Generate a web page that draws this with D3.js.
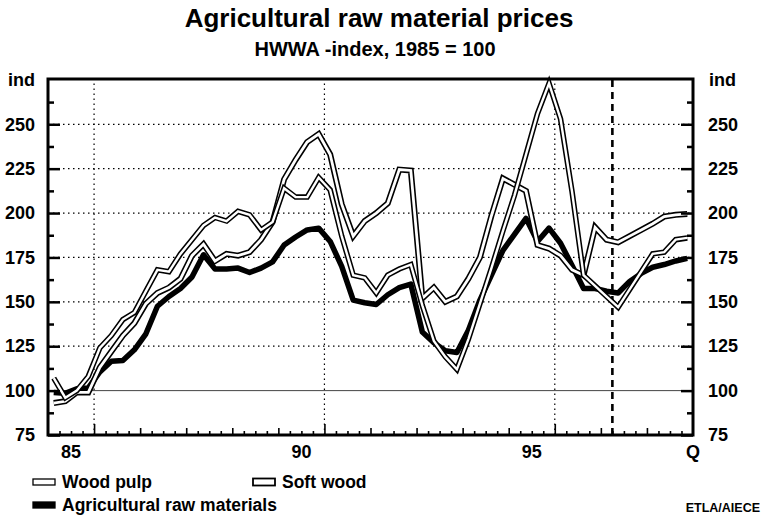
<!DOCTYPE html>
<html>
<head>
<meta charset="utf-8">
<script src="https://cdn.jsdelivr.net/npm/d3@7"></script>
<style>
  body { margin: 0; background: #fff; }
  text { font-family: "Liberation Sans", Arial, sans-serif; font-weight: bold; fill: #000; }
</style>
</head>
<body>
<script>
// quarterly HWWA index, 1985Q1 .. 1998Q4
const startYear = 1985;
const woodPulp = [107, 96, 100, 108, 124, 131, 140, 144, 156, 168, 167, 177,
    185, 193, 197.5, 195.5, 201, 199, 190.5, 195, 214, 209, 209, 220,
    213, 187, 165, 163.5, 155, 165, 168.5, 171, 148, 128, 119, 112,
    129, 149, 169, 190, 210, 233, 256, 273, 253, 212, 165, 159,
    153, 147, 157, 167, 177, 178, 185, 186];
const softWood = [93, 94, 99, 99, 113, 122, 131, 138, 149, 155, 158, 163,
    176, 182.5, 173, 177, 176, 178, 185, 195, 219, 230, 240, 244.5,
    233, 205, 187, 195.5, 200, 205.5, 224.5, 224, 152, 158, 150, 153,
    163, 175, 198.5, 219.5, 216, 212.5, 182, 180, 176, 168, 165, 192,
    185, 183.5, 187, 190.5, 194, 198, 199, 199.5];
const agri = [99, 98.5, 101, 101.5, 110.5, 116.5, 117, 123, 132, 147.5, 153, 157.5,
    164, 176.5, 168.5, 168.5, 169, 166.5, 169, 172.5, 182, 186.5, 190.5, 191.5,
    184, 170, 151, 149.5, 148.5, 154, 158, 160, 133, 127, 122.5, 121.5,
    134, 151, 165, 179, 188, 197, 184, 191.5, 183, 170.5, 157.5, 157.5,
    156, 155, 161.5, 166, 169.5, 171, 173, 174.5];

const yTicks = [75, 100, 125, 150, 175, 200, 225, 250];
const xLabels = [{year: 1985, label: "85"}, {year: 1990, label: "90"}, {year: 1995, label: "95"}];
const forecastStart = 1997.25;

const w = 764;
const h = 521;
const margin = {top: 79, right: 71, bottom: 86, left: 48};

const xScale = d3.scaleLinear()
    .domain([1985, 1999])
    .range([margin.left, w - margin.right]);

const yScale = d3.scaleLinear()
    .domain([75, 275.5])
    .range([h - margin.bottom, margin.top]);

const tOf = i => startYear + i / 4 + 0.125;

const svg = d3.select("body")
  .append("svg")
    .attr("width", w)
    .attr("height", h);

svg.append("rect")
    .attr("width", w)
    .attr("height", h)
    .attr("fill", "#fff");

// titles
svg.append("text")
    .attr("x", 379)
    .attr("y", 27)
    .attr("text-anchor", "middle")
    .style("font-size", "26px")
    .text("Agricultural raw material prices");

svg.append("text")
    .attr("x", 375)
    .attr("y", 56)
    .attr("text-anchor", "middle")
    .style("font-size", "20px")
    .text("HWWA -index, 1985 = 100");

// grid
const x0 = xScale.range()[0], x1 = xScale.range()[1];
const y0 = yScale.range()[0], y1 = yScale.range()[1];

svg.append("g")
  .selectAll("line")
    .data(yTicks.filter(d => d > 100))
  .enter().append("line")
    .attr("x1", x0).attr("x2", x1)
    .attr("y1", d => yScale(d)).attr("y2", d => yScale(d))
    .attr("stroke", "#000")
    .attr("stroke-width", 1.2)
    .attr("stroke-dasharray", "1.5,3.5");

svg.append("line")
    .attr("x1", x0).attr("x2", x1)
    .attr("y1", yScale(100)).attr("y2", yScale(100))
    .attr("stroke", "#444")
    .attr("stroke-width", 1);

svg.append("g")
  .selectAll("line")
    .data([1986, 1991, 1996])
  .enter().append("line")
    .attr("x1", d => xScale(d)).attr("x2", d => xScale(d))
    .attr("y1", y0).attr("y2", y1)
    .attr("stroke", "#000")
    .attr("stroke-width", 1.2)
    .attr("stroke-dasharray", "1.5,3.5");

svg.append("line")
    .attr("x1", xScale(forecastStart)).attr("x2", xScale(forecastStart))
    .attr("y1", y0).attr("y2", y1)
    .attr("stroke", "#000")
    .attr("stroke-width", 2.6)
    .attr("stroke-dasharray", "7,5");

// series
const line = d3.line()
    .x((d, i) => xScale(tOf(i)))
    .y(d => yScale(d));

svg.append("path")
    .datum(agri)
    .attr("d", line)
    .attr("fill", "none")
    .attr("stroke", "#000")
    .attr("stroke-width", 5.5)
    .attr("stroke-linejoin", "round");

function hollow(data, outer, inner) {
  svg.append("path")
      .datum(data)
      .attr("d", line)
      .attr("fill", "none")
      .attr("stroke", "#000")
      .attr("stroke-width", outer);
  svg.append("path")
      .datum(data)
      .attr("d", line)
      .attr("fill", "none")
      .attr("stroke", "#fff")
      .attr("stroke-width", inner);
}
hollow(softWood, 6, 2.8);
hollow(woodPulp, 5.5, 2.4);

// axes
const yAxisL = d3.axisLeft(yScale).tickValues(yTicks)
    .tickSizeInner(-12).tickSizeOuter(0).tickPadding(13);
const yAxisLMinor = d3.axisLeft(yScale).tickValues(d3.range(87.5, 275, 25))
    .tickSizeInner(-6).tickSizeOuter(0).tickFormat("");
const yAxisR = d3.axisRight(yScale).tickValues(yTicks)
    .tickSizeInner(-12).tickSizeOuter(0).tickPadding(15);
const yAxisRMinor = d3.axisRight(yScale).tickValues(d3.range(87.5, 275, 25))
    .tickSizeInner(-6).tickSizeOuter(0).tickFormat("");

function styleAxis(g) {
  g.select(".domain").remove();
  g.selectAll(".tick line").attr("stroke", "#000").attr("stroke-width", 2.5);
  g.selectAll(".tick text").style("font-size", "18px").style("font-family", "Liberation Sans, Arial, sans-serif").style("font-weight", "bold");
}

svg.append("g").attr("transform", `translate(${x0},0)`).call(yAxisL).call(styleAxis);
svg.append("g").attr("transform", `translate(${x0},0)`).call(yAxisLMinor).call(styleAxis);
svg.append("g").attr("transform", `translate(${x1},0)`).call(yAxisR).call(styleAxis);
svg.append("g").attr("transform", `translate(${x1},0)`).call(yAxisRMinor).call(styleAxis);

const quarterTicks = d3.range(1985, 1999.01, 0.25);
const xAxisQ = d3.axisBottom(xScale).tickValues(quarterTicks.filter(d => d % 1 !== 0))
    .tickSizeInner(-4).tickSizeOuter(0).tickFormat("");
const xAxisY = d3.axisBottom(xScale).tickValues(d3.range(1986, 1999).filter(d => (d - 1986) % 5 !== 0))
    .tickSizeInner(-7).tickSizeOuter(0).tickFormat("");
const xAxis5 = d3.axisBottom(xScale).tickValues([1986, 1991, 1996])
    .tickSizeInner(-11).tickSizeOuter(0).tickFormat("");
[xAxisQ, xAxisY, xAxis5].forEach(a => {
  svg.append("g").attr("transform", `translate(0,${y0})`).call(a).call(styleAxis)
    .selectAll(".tick line").attr("stroke-width", 1.6);
});

// frame
svg.append("rect")
    .attr("x", x0).attr("y", y1)
    .attr("width", x1 - x0).attr("height", y0 - y1)
    .attr("fill", "none")
    .attr("stroke", "#000")
    .attr("stroke-width", 3);

// x labels
svg.append("g")
  .selectAll("text")
    .data(xLabels)
  .enter().append("text")
    .attr("x", d => xScale(d.year + 0.5))
    .attr("y", 458)
    .attr("text-anchor", "middle")
    .style("font-size", "18px")
    .text(d => d.label);

svg.append("text")
    .attr("x", x1)
    .attr("y", 458)
    .attr("text-anchor", "middle")
    .style("font-size", "18px")
    .text("Q");

// unit labels
svg.append("text").attr("x", 8).attr("y", 86).style("font-size", "18px").text("ind");
svg.append("text").attr("x", 709).attr("y", 86).style("font-size", "18px").text("ind");

// legend
const legend = [
  {name: "Wood pulp", x: 32, y: 482, type: "pulp"},
  {name: "Soft wood", x: 252, y: 482, type: "soft"},
  {name: "Agricultural raw materials", x: 32, y: 505, type: "agri"}
];
const lg = svg.append("g").selectAll("g").data(legend).enter().append("g")
    .attr("transform", d => `translate(${d.x},${d.y})`);
lg.append("rect")
    .attr("x", 1).attr("y", d => d.type === "soft" ? -3.5 : -3)
    .attr("width", 22).attr("height", d => d.type === "soft" ? 7 : 6)
    .attr("fill", d => d.type === "agri" ? "#000" : "#fff")
    .attr("stroke", "#000")
    .attr("stroke-width", d => d.type === "soft" ? 1.8 : 1.3);
lg.append("text")
    .attr("x", 30).attr("y", 6)
    .style("font-size", "17.5px")
    .text(d => d.name);

svg.append("text")
    .attr("x", 760).attr("y", 512)
    .attr("text-anchor", "end")
    .style("font-size", "12.5px")
    .text("ETLA/AIECE");
</script>
</body>
</html>
